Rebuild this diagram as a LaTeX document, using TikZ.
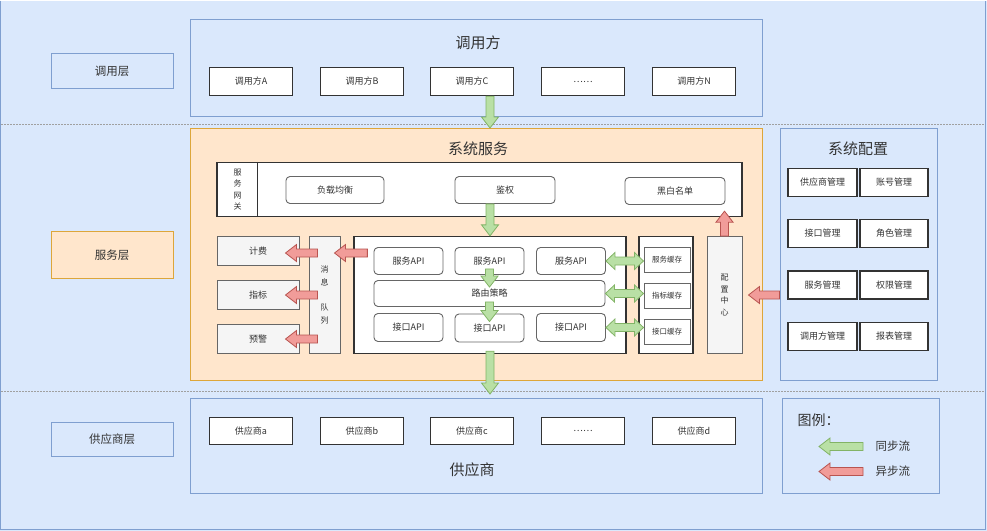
\documentclass[tikz,border=0pt]{standalone}
\usepackage{fontspec}
\newfontfamily\cjk{Noto Sans CJK SC}
\usetikzlibrary{calc}

\definecolor{fillblue}{HTML}{DAE8FC}
\definecolor{edgeblue}{HTML}{7F9FD0}
\definecolor{fillorange}{HTML}{FFE6CC}
\definecolor{edgeorange}{HTML}{DDA63A}
\definecolor{fillgray}{HTML}{F5F5F5}
\definecolor{edgegray}{HTML}{666666}
\definecolor{ink}{HTML}{333333}
\definecolor{syncfill}{HTML}{B9E0A5}
\definecolor{syncedge}{HTML}{82B366}
\definecolor{asyncfill}{HTML}{F19C99}
\definecolor{asyncedge}{HTML}{B85450}
\definecolor{sepgray}{HTML}{A0A0A0}

\begin{document}
\begin{tikzpicture}[
  x=1pt, y=-1pt,
  font=\cjk\fontsize{9}{11}\selectfont,
  text=ink,
  box/.style={draw=edgeblue, line width=1pt, fill=fillblue},
  layer/.style={box, minimum width=122pt, font=\cjk\fontsize{11.5}{13}\selectfont},
  title/.style={font=\cjk\fontsize{15}{17}\selectfont},
  frame/.style={draw=ink, line width=1.3pt, fill=white},
  item/.style={frame, minimum width=83pt, minimum height=28pt},
  cfgitem/.style={frame, minimum width=68pt, minimum height=28pt},
  api/.style={draw=edgegray, line width=0.9pt, fill=white, rounded corners=4pt,
              minimum width=69pt, minimum height=27pt},
  side/.style={draw=edgegray, line width=1pt, fill=fillgray, minimum width=82pt, minimum height=29pt},
  cache/.style={draw=edgegray, line width=1pt, fill=white, minimum width=46pt, minimum height=25pt,
                inner sep=1pt, font=\cjk\fontsize{7.5}{9}\selectfont},
  vtext/.style={align=center, font=\cjk\fontsize{8}{11.5}\selectfont},
  flex/.style={to path={
    let \p1=(\tikztostart), \p2=(\tikztotarget), \p3=($(\p2)!11pt!(\p1)$) in
    ($(\p1)!4pt!90:(\p2)$) -- ($(\p3)!4pt!-90:(\p1)$) -- ($(\p3)!8.5pt!-90:(\p1)$)
    -- (\p2) -- ($(\p3)!8.5pt!90:(\p1)$) -- ($(\p3)!4pt!90:(\p1)$)
    -- ($(\p1)!4pt!-90:(\p2)$) -- cycle}},
  flexboth/.style={to path={
    let \p1=(\tikztostart), \p2=(\tikztotarget),
        \p3=($(\p2)!9pt!(\p1)$), \p4=($(\p1)!9pt!(\p2)$) in
    (\p1) -- ($(\p4)!8.5pt!90:(\p2)$) -- ($(\p4)!4pt!90:(\p2)$)
    -- ($(\p3)!4pt!-90:(\p1)$) -- ($(\p3)!8.5pt!-90:(\p1)$) -- (\p2)
    -- ($(\p3)!8.5pt!90:(\p1)$) -- ($(\p3)!4pt!90:(\p1)$)
    -- ($(\p4)!4pt!-90:(\p2)$) -- ($(\p4)!8.5pt!-90:(\p2)$) -- cycle}},
  sync/.style={flex, draw=syncedge, fill=syncfill, line width=0.8pt},
  syncboth/.style={flexboth, draw=syncedge, fill=syncfill, line width=0.8pt},
  async/.style={flex, draw=asyncedge, fill=asyncfill, line width=0.8pt},
]
  % background and layer separators
  \fill[fillblue] (0,0) rectangle (987,530);
  \draw[edgeblue, line width=1pt] (0.5,0) -- (0.5,529) -- (985,529) -- (985,0);
  \draw[sepgray, dash pattern=on 1.5pt off 1.5pt] (1,124) -- (985,124);
  \draw[sepgray, dash pattern=on 1.5pt off 1.5pt] (1,391) -- (985,391);

  % ===================== caller layer =====================
  \node[layer, minimum height=35pt] (lcall) at (112,70.5) {调用层};
  \node[box, minimum width=572pt, minimum height=97pt] (callers) at (476,67.5) {};
  \node[title] (tcall) at (478,42) {调用方};
  \node[item] (c1) at (251,81) {调用方A};
  \node[item] (c2) at (362,81) {调用方B};
  \node[item] (c3) at (472,81) {调用方C};
  \node[item] (c4) at (583,81) {……};
  \node[item] (c5) at (694,81) {调用方N};

  % ===================== service layer =====================
  \node[layer, fill=fillorange, draw=edgeorange, minimum height=47pt] (lsrv) at (112,254.5) {服务层};
  \node[draw=edgeorange, line width=1pt, fill=fillorange,
        minimum width=572pt, minimum height=252pt] (srv) at (476,254) {};
  \node[title] (tsrv) at (478,148) {系统服务};

  % gateway
  \node[frame, minimum width=525pt, minimum height=54pt] (gw) at (479.5,189) {};
  \draw[ink, line width=1.3pt] ([xshift=41pt]gw.north west) -- ([xshift=41pt]gw.south west);
  \node[vtext] (gwname) at (237.5,189) {服\\务\\网\\关};
  \node[api, minimum width=98pt] (lb) at (335,189.5) {负载均衡};
  \node[api, minimum width=100pt] (auth) at (505,189.5) {鉴权};
  \node[api, minimum width=100pt] (acl) at (675,190.5) {黑白名单};

  % side outputs
  \node[side] (fee) at (258,250.5) {计费};
  \node[side] (metric) at (258,294.5) {指标};
  \node[side] (alert) at (258,338.5) {预警};
  \node[side, vtext, minimum width=31pt, minimum height=117pt,
        font=\cjk\fontsize{8}{13}\selectfont] (mq) at (324.5,294.5) {消\\息\\[12pt]队\\列};

  % api block
  \node[frame, minimum width=272pt, minimum height=117pt] (apibox) at (490,294.5) {};
  \node[api] (sapi1) at (408.5,260.5) {服务API};
  \node[api] (sapi2) at (489.5,260.5) {服务API};
  \node[api] (sapi3) at (571,260.5) {服务API};
  \node[api, minimum width=231pt, minimum height=26pt] (route) at (489.5,293) {路由策略};
  \node[api, minimum height=28pt] (iapi1) at (408.5,327) {接口API};
  \node[api, minimum height=28pt] (iapi2) at (489.5,327.5) {接口API};
  \node[api, minimum height=28pt] (iapi3) at (571,327) {接口API};

  % caches
  \node[frame, minimum width=54pt, minimum height=117pt] (cachebox) at (666,294.5) {};
  \node[cache] (ca1) at (667,259.5) {服务缓存};
  \node[cache] (ca2) at (667,295.5) {指标缓存};
  \node[cache] (ca3) at (667,331) {接口缓存};

  % config centre
  \node[side, vtext, minimum width=35pt, minimum height=117pt] (cfg) at (724.5,294.5) {配\\置\\中\\心};

  % system config
  \node[box, minimum width=157pt, minimum height=252pt] (syscfg) at (858.5,254) {};
  \node[title] (tcfg) at (858,148) {系统配置};
  \node[cfgitem, minimum width=69pt] (m1) at (822.5,182) {供应商管理};
  \node[cfgitem] (m2) at (894,182) {账号管理};
  \node[cfgitem, minimum width=69pt] (m3) at (822.5,233) {接口管理};
  \node[cfgitem] (m4) at (894,233) {角色管理};
  \node[cfgitem, minimum width=69pt] (m5) at (822.5,284.5) {服务管理};
  \node[cfgitem] (m6) at (894,284.5) {权限管理};
  \node[cfgitem, minimum width=69pt] (m7) at (822.5,336) {调用方管理};
  \node[cfgitem] (m8) at (894,336) {报表管理};

  % ===================== supplier layer =====================
  \node[layer, minimum height=34pt] (lsup) at (112,439) {供应商层};
  \node[box, minimum width=572pt, minimum height=95pt] (sup) at (476,445.5) {};
  \node[title] (tsup) at (472,469) {供应商};
  \node[item, minimum height=27pt] (s1) at (251,430.5) {供应商a};
  \node[item, minimum height=27pt] (s2) at (362,430.5) {供应商b};
  \node[item, minimum height=27pt] (s3) at (472,430.5) {供应商c};
  \node[item, minimum height=27pt] (s4) at (583,430.5) {……};
  \node[item, minimum height=27pt] (s5) at (694,430.5) {供应商d};

  % legend
  \node[box, minimum width=157pt, minimum height=95pt] (legend) at (860.5,445.5) {};
  \node[anchor=west, font=\cjk\fontsize{14}{16}\selectfont] (lgtitle) at (794,420) {图例：};
  \node[anchor=west, font=\cjk\fontsize{11.5}{13}\selectfont] (lgsync) at (872,446) {同步流};
  \node[anchor=west, font=\cjk\fontsize{11.5}{13}\selectfont] (lgasync) at (872,471) {异步流};

  % ===================== flows =====================
  \draw[sync] (c3.south -| apibox.north) to (srv.north -| apibox.north);
  \draw[sync] (auth.south -| apibox.north) to (apibox.north);
  \draw[sync] ($(sapi2.south)+(0,-6)$) to ($(route.north)+(0,7)$);
  \draw[sync] ($(route.south)+(0,-5)$) to ($(iapi2.north)+(0,8)$);
  \draw[sync] ($(apibox.south)+(0,-3)$) to ($(sup.north -| apibox.south)+(0,-4)$);
  \draw[syncboth] (sapi3.east) to (sapi3.east -| ca1.west);
  \draw[syncboth] (route.east) to (route.east -| ca2.west);
  \draw[syncboth] (iapi3.east) to (iapi3.east -| ca3.west);

  \draw[async] ($(fee -| apibox.west)+(14,2)$) to ($(fee -| mq.east)+(-6,2)$);
  \draw[async] ($(fee -| mq.west)+(9,2)$) to ($(fee.east)+(-14,2)$);
  \draw[async] ($(metric -| mq.west)+(9,0)$) to ($(metric.east)+(-14,0)$);
  \draw[async] ($(alert -| mq.west)+(9,0)$) to ($(alert.east)+(-14,0)$);
  \draw[async] (cfg.north) to ($(cfg.north |- gw.south)+(0,-6)$);
  \draw[async] (cfg.east -| syscfg.west) to ($(cfg.east)+(6,0)$);

  \draw[sync] ($(lgsync.west)+(-9,0)$) to ($(lgsync.west)+(-53,0)$);
  \draw[async] ($(lgasync.west)+(-9,0)$) to ($(lgasync.west)+(-53,0)$);
\end{tikzpicture}
\end{document}
